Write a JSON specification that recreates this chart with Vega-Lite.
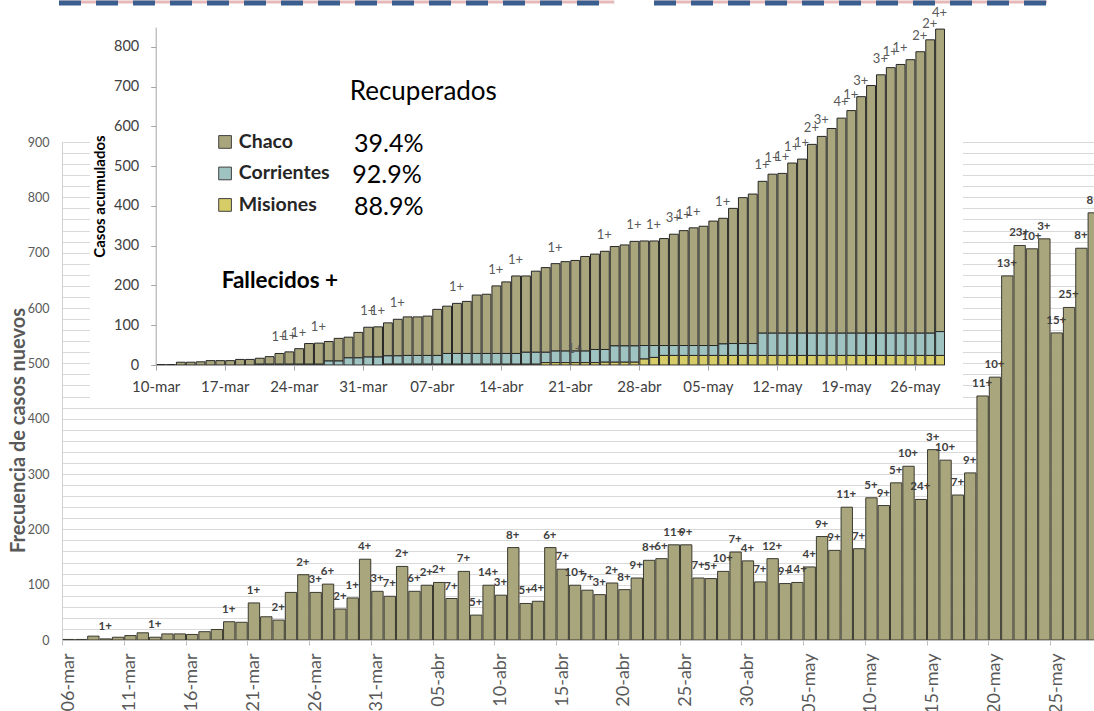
{
  "$schema": "https://vega.github.io/schema/vega-lite/v6.json",
  "width": 1032,
  "height": 498,
  "autosize": {"type": "none"},
  "padding": {"left": 62, "top": 142, "right": 0, "bottom": 71},
  "background": "#ffffff",
  "config": {"view": {"stroke": null}, "font": "Lato"},
  "datasets": {
    "daily": [
      {"d":"2020-03-06","n":1},{"d":"2020-03-07","n":1},{"d":"2020-03-08","n":7},{"d":"2020-03-09","n":2,"t":"1+"},
      {"d":"2020-03-10","n":5},{"d":"2020-03-11","n":8},{"d":"2020-03-12","n":13},{"d":"2020-03-13","n":5,"t":"1+"},
      {"d":"2020-03-14","n":11},{"d":"2020-03-15","n":11},{"d":"2020-03-16","n":10},{"d":"2020-03-17","n":15},
      {"d":"2020-03-18","n":19},{"d":"2020-03-19","n":33,"t":"1+"},{"d":"2020-03-20","n":32},{"d":"2020-03-21","n":67,"t":"1+"},
      {"d":"2020-03-22","n":42},{"d":"2020-03-23","n":36,"t":"2+"},{"d":"2020-03-24","n":86},{"d":"2020-03-25","n":118,"t":"2+"},
      {"d":"2020-03-26","n":86,"t":"3+"},{"d":"2020-03-27","n":101,"t":"6+"},{"d":"2020-03-28","n":56,"t":"2+"},{"d":"2020-03-29","n":76,"t":"1+"},
      {"d":"2020-03-30","n":146,"t":"4+"},{"d":"2020-03-31","n":88,"t":"3+"},{"d":"2020-04-01","n":79,"t":"7+"},{"d":"2020-04-02","n":133,"t":"2+"},
      {"d":"2020-04-03","n":88,"t":"6+"},{"d":"2020-04-04","n":99,"t":"2+"},{"d":"2020-04-05","n":104,"t":"2+"},{"d":"2020-04-06","n":75,"t":"7+"},
      {"d":"2020-04-07","n":124,"t":"7+"},{"d":"2020-04-08","n":45,"t":"5+"},{"d":"2020-04-09","n":99,"t":"14+"},{"d":"2020-04-10","n":81,"t":"3+"},
      {"d":"2020-04-11","n":167,"t":"8+"},{"d":"2020-04-12","n":66,"t":"5+"},{"d":"2020-04-13","n":70,"t":"4+"},{"d":"2020-04-14","n":167,"t":"6+"},
      {"d":"2020-04-15","n":128,"t":"7+"},{"d":"2020-04-16","n":99,"t":"10+"},{"d":"2020-04-17","n":90,"t":"7+"},{"d":"2020-04-18","n":82,"t":"3+"},
      {"d":"2020-04-19","n":103,"t":"2+"},{"d":"2020-04-20","n":91,"t":"8+"},{"d":"2020-04-21","n":112,"t":"9+"},{"d":"2020-04-22","n":144,"t":"8+"},
      {"d":"2020-04-23","n":147,"t":"6+"},{"d":"2020-04-24","n":172,"t":"11+"},{"d":"2020-04-25","n":172,"t":"9+"},{"d":"2020-04-26","n":112,"t":"7+"},
      {"d":"2020-04-27","n":111,"t":"5+"},{"d":"2020-04-28","n":124,"t":"10+"},{"d":"2020-04-29","n":159,"t":"7+"},{"d":"2020-04-30","n":143,"t":"4+"},
      {"d":"2020-05-01","n":105,"t":"7+"},{"d":"2020-05-02","n":147,"t":"12+"},{"d":"2020-05-03","n":102,"t":"9+"},{"d":"2020-05-04","n":104,"t":"14+"},
      {"d":"2020-05-05","n":132,"t":"4+"},{"d":"2020-05-06","n":187,"t":"9+"},{"d":"2020-05-07","n":162,"t":"9+"},{"d":"2020-05-08","n":240,"t":"11+"},
      {"d":"2020-05-09","n":165,"t":"7+"},{"d":"2020-05-10","n":257,"t":"5+"},{"d":"2020-05-11","n":243,"t":"9+"},{"d":"2020-05-12","n":284,"t":"5+"},
      {"d":"2020-05-13","n":314,"t":"10+"},{"d":"2020-05-14","n":254,"t":"24+"},{"d":"2020-05-15","n":344,"t":"3+"},{"d":"2020-05-16","n":325,"t":"10+"},
      {"d":"2020-05-17","n":262,"t":"7+"},{"d":"2020-05-18","n":302,"t":"9+"},{"d":"2020-05-19","n":441,"t":"11+"},{"d":"2020-05-20","n":475,"t":"10+"},
      {"d":"2020-05-21","n":658,"t":"13+"},{"d":"2020-05-22","n":713,"t":"23+"},{"d":"2020-05-23","n":707,"t":"10+"},{"d":"2020-05-24","n":725,"t":"3+"},
      {"d":"2020-05-25","n":555,"t":"15+"},{"d":"2020-05-26","n":601,"t":"25+"},{"d":"2020-05-27","n":708,"t":"8+"},{"d":"2020-05-28","n":772,"t":"8+"}
    ],
    "cum": [
      {"d":"2020-03-10","Chaco":1,"Corrientes":0,"Misiones":0},{"d":"2020-03-11","Chaco":1,"Corrientes":0,"Misiones":0},
      {"d":"2020-03-12","Chaco":7,"Corrientes":0,"Misiones":0},{"d":"2020-03-13","Chaco":7,"Corrientes":0,"Misiones":0},
      {"d":"2020-03-14","Chaco":8,"Corrientes":0,"Misiones":0},{"d":"2020-03-15","Chaco":11,"Corrientes":0,"Misiones":0},
      {"d":"2020-03-16","Chaco":11,"Corrientes":0,"Misiones":0},{"d":"2020-03-17","Chaco":11,"Corrientes":0,"Misiones":0},
      {"d":"2020-03-18","Chaco":14,"Corrientes":0,"Misiones":0},{"d":"2020-03-19","Chaco":14,"Corrientes":0,"Misiones":0},
      {"d":"2020-03-20","Chaco":15,"Corrientes":2,"Misiones":0},{"d":"2020-03-21","Chaco":19,"Corrientes":2,"Misiones":0},
      {"d":"2020-03-22","Chaco":27,"Corrientes":2,"Misiones":0},{"d":"2020-03-23","Chaco":31,"Corrientes":2,"Misiones":0},
      {"d":"2020-03-24","Chaco":39,"Corrientes":2,"Misiones":0},{"d":"2020-03-25","Chaco":52,"Corrientes":2,"Misiones":0},
      {"d":"2020-03-26","Chaco":53,"Corrientes":2,"Misiones":0},{"d":"2020-03-27","Chaco":49,"Corrientes":10,"Misiones":0},
      {"d":"2020-03-28","Chaco":57,"Corrientes":10,"Misiones":0},{"d":"2020-03-29","Chaco":52,"Corrientes":18,"Misiones":0},
      {"d":"2020-03-30","Chaco":64,"Corrientes":18,"Misiones":0},{"d":"2020-03-31","Chaco":75,"Corrientes":20,"Misiones":0},
      {"d":"2020-04-01","Chaco":76,"Corrientes":20,"Misiones":0},{"d":"2020-04-02","Chaco":83,"Corrientes":21,"Misiones":2},
      {"d":"2020-04-03","Chaco":92,"Corrientes":21,"Misiones":2},{"d":"2020-04-04","Chaco":97,"Corrientes":22,"Misiones":2},
      {"d":"2020-04-05","Chaco":97,"Corrientes":22,"Misiones":2},{"d":"2020-04-06","Chaco":99,"Corrientes":22,"Misiones":2},
      {"d":"2020-04-07","Chaco":116,"Corrientes":22,"Misiones":2},{"d":"2020-04-08","Chaco":119,"Corrientes":27,"Misiones":2},
      {"d":"2020-04-09","Chaco":126,"Corrientes":27,"Misiones":2},{"d":"2020-04-10","Chaco":131,"Corrientes":27,"Misiones":2},
      {"d":"2020-04-11","Chaco":147,"Corrientes":27,"Misiones":2},{"d":"2020-04-12","Chaco":149,"Corrientes":27,"Misiones":2},
      {"d":"2020-04-13","Chaco":170,"Corrientes":27,"Misiones":2},{"d":"2020-04-14","Chaco":180,"Corrientes":27,"Misiones":2},
      {"d":"2020-04-15","Chaco":195,"Corrientes":27,"Misiones":2},{"d":"2020-04-16","Chaco":192,"Corrientes":30,"Misiones":2},
      {"d":"2020-04-17","Chaco":204,"Corrientes":30,"Misiones":2},{"d":"2020-04-18","Chaco":213,"Corrientes":26,"Misiones":6},
      {"d":"2020-04-19","Chaco":220,"Corrientes":29,"Misiones":6},{"d":"2020-04-20","Chaco":225,"Corrientes":29,"Misiones":6},
      {"d":"2020-04-21","Chaco":228,"Corrientes":29,"Misiones":6},{"d":"2020-04-22","Chaco":238,"Corrientes":29,"Misiones":6},
      {"d":"2020-04-23","Chaco":240,"Corrientes":33,"Misiones":6},{"d":"2020-04-24","Chaco":247,"Corrientes":32,"Misiones":7},
      {"d":"2020-04-25","Chaco":250,"Corrientes":41,"Misiones":7},{"d":"2020-04-26","Chaco":254,"Corrientes":41,"Misiones":7},
      {"d":"2020-04-27","Chaco":263,"Corrientes":41,"Misiones":7},{"d":"2020-04-28","Chaco":263,"Corrientes":34,"Misiones":15},
      {"d":"2020-04-29","Chaco":263,"Corrientes":30,"Misiones":19},{"d":"2020-04-30","Chaco":269,"Corrientes":25,"Misiones":24},
      {"d":"2020-05-01","Chaco":280,"Corrientes":25,"Misiones":24},{"d":"2020-05-02","Chaco":289,"Corrientes":25,"Misiones":24},
      {"d":"2020-05-03","Chaco":296,"Corrientes":25,"Misiones":24},{"d":"2020-05-04","Chaco":300,"Corrientes":25,"Misiones":24},
      {"d":"2020-05-05","Chaco":313,"Corrientes":25,"Misiones":24},{"d":"2020-05-06","Chaco":316,"Corrientes":29,"Misiones":24},
      {"d":"2020-05-07","Chaco":340,"Corrientes":30,"Misiones":24},{"d":"2020-05-08","Chaco":367,"Corrientes":30,"Misiones":24},
      {"d":"2020-05-09","Chaco":376,"Corrientes":30,"Misiones":24},{"d":"2020-05-10","Chaco":382,"Corrientes":56,"Misiones":24},
      {"d":"2020-05-11","Chaco":400,"Corrientes":56,"Misiones":24},{"d":"2020-05-12","Chaco":402,"Corrientes":56,"Misiones":24},
      {"d":"2020-05-13","Chaco":428,"Corrientes":56,"Misiones":24},{"d":"2020-05-14","Chaco":438,"Corrientes":56,"Misiones":24},
      {"d":"2020-05-15","Chaco":475,"Corrientes":56,"Misiones":24},{"d":"2020-05-16","Chaco":495,"Corrientes":56,"Misiones":24},
      {"d":"2020-05-17","Chaco":515,"Corrientes":56,"Misiones":24},{"d":"2020-05-18","Chaco":541,"Corrientes":56,"Misiones":24},
      {"d":"2020-05-19","Chaco":560,"Corrientes":56,"Misiones":24},{"d":"2020-05-20","Chaco":595,"Corrientes":56,"Misiones":24},
      {"d":"2020-05-21","Chaco":623,"Corrientes":56,"Misiones":24},{"d":"2020-05-22","Chaco":650,"Corrientes":56,"Misiones":24},
      {"d":"2020-05-23","Chaco":668,"Corrientes":56,"Misiones":24},{"d":"2020-05-24","Chaco":676,"Corrientes":56,"Misiones":24},
      {"d":"2020-05-25","Chaco":688,"Corrientes":56,"Misiones":24},{"d":"2020-05-26","Chaco":708,"Corrientes":56,"Misiones":24},
      {"d":"2020-05-27","Chaco":738,"Corrientes":56,"Misiones":24},{"d":"2020-05-28","Chaco":761,"Corrientes":60,"Misiones":24}
    ],
    "fall": [
      {"d":"2020-03-22","y":29,"t":"1+"},{"d":"2020-03-23","y":33,"t":"1+"},{"d":"2020-03-24","y":41,"t":"1+"},{"d":"2020-03-26","y":55,"t":"1+"},
      {"d":"2020-03-31","y":95,"t":"1+"},{"d":"2020-04-01","y":96,"t":"1+"},{"d":"2020-04-03","y":115,"t":"1+"},{"d":"2020-04-09","y":155,"t":"1+"},
      {"d":"2020-04-13","y":199,"t":"1+"},{"d":"2020-04-15","y":224,"t":"1+"},{"d":"2020-04-19","y":255,"t":"1+"},{"d":"2020-04-24","y":286,"t":"1+"},
      {"d":"2020-04-27","y":311,"t":"1+"},{"d":"2020-04-29","y":312,"t":"1+"},{"d":"2020-05-01","y":329,"t":"3+"},{"d":"2020-05-02","y":338,"t":"1+"},
      {"d":"2020-05-03","y":345,"t":"1+"},{"d":"2020-05-06","y":369,"t":"1+"},{"d":"2020-05-10","y":462,"t":"1+"},{"d":"2020-05-11","y":480,"t":"1+"},
      {"d":"2020-05-12","y":482,"t":"1+"},{"d":"2020-05-13","y":508,"t":"1+"},{"d":"2020-05-14","y":518,"t":"1+"},{"d":"2020-05-15","y":555,"t":"2+"},
      {"d":"2020-05-16","y":575,"t":"3+"},{"d":"2020-05-18","y":621,"t":"4+"},{"d":"2020-05-19","y":640,"t":"1+"},{"d":"2020-05-20","y":675,"t":"3+"},
      {"d":"2020-05-22","y":730,"t":"3+"},{"d":"2020-05-23","y":748,"t":"1+"},{"d":"2020-05-24","y":756,"t":"1+"},{"d":"2020-05-26","y":788,"t":"2+"},
      {"d":"2020-05-27","y":818,"t":"2+"},{"d":"2020-05-28","y":845,"t":"4+"}
    ]
  },
  "layer": [
    {
      "layer": [
        {
          "data": {"name": "daily"},
          "mark": {"type": "bar", "fill": "#a9a57c", "stroke": "#3a3a30", "strokeWidth": 1, "clip": true},
          "encoding": {
            "x": {
              "field": "d", "timeUnit": "utcyearmonthdate", "type": "temporal",
              "scale": {"type": "utc", "domain": [{"year":2020,"month":3,"date":6,"utc":true},{"year":2020,"month":5,"date":28,"hours":13,"minutes":26,"utc":true}]},
              "axis": {
                "title": null, "grid": false, "tickCount": 40,
                "values": [
                  {"year":2020,"month":3,"date":6,"utc":true},{"year":2020,"month":3,"date":11,"utc":true},{"year":2020,"month":3,"date":16,"utc":true},
                  {"year":2020,"month":3,"date":21,"utc":true},{"year":2020,"month":3,"date":26,"utc":true},{"year":2020,"month":3,"date":31,"utc":true},
                  {"year":2020,"month":4,"date":5,"utc":true},{"year":2020,"month":4,"date":10,"utc":true},{"year":2020,"month":4,"date":15,"utc":true},
                  {"year":2020,"month":4,"date":20,"utc":true},{"year":2020,"month":4,"date":25,"utc":true},{"year":2020,"month":4,"date":30,"utc":true},
                  {"year":2020,"month":5,"date":5,"utc":true},{"year":2020,"month":5,"date":10,"utc":true},{"year":2020,"month":5,"date":15,"utc":true},
                  {"year":2020,"month":5,"date":20,"utc":true},{"year":2020,"month":5,"date":25,"utc":true}
                ],
                "labelExpr": "replace(lower(utcFormat(datum.value, '%d-%b')), 'apr', 'abr')",
                "labelAngle": 270, "labelAlign": "right", "labelBaseline": "middle",
                "labelOffset": 6, "labelPadding": 8, "labelFlush": false, "labelOverlap": false,
                "tickSize": 5, "tickColor": "#bfbfbf", "domainColor": "#bfbfbf",
                "labelFont": "Lato", "labelFontSize": 18, "labelColor": "#595959"
              }
            },
            "y": {
              "field": "n", "type": "quantitative",
              "scale": {"domain": [0, 900], "nice": false},
              "axis": {
                "tickCount": 100,
                "values": [0,20,40,60,80,100,120,140,160,180,200,220,240,260,280,300,320,340,360,380,400,420,440,460,480,500,520,540,560,580,600,620,640,660,680,700,720,740,760,780,800,820,840,860,880,900],
                "labelExpr": "datum.value % 100 === 0 ? datum.label : ''",
                "grid": true, "gridColor": "#d9d9d9", "tickSize": 0, "labelPadding": 13, "labelOverlap": false,
                "labelFont": "Lato", "labelFontSize": 12.5, "labelColor": "#595959", "domainColor": "#d0d0d0",
                "title": "Frecuencia de casos nuevos", "titleFont": "Lato", "titleFontSize": 20, "titleFontWeight": "bold",
                "titleColor": "#595959", "titleX": -44, "titleY": 288, "titleAngle": 270, "titleAlign": "center", "titleBaseline": "middle"
              }
            }
          }
        },
        {
          "data": {"name": "daily"},
          "transform": [{"filter": "isValid(datum.t)"}],
          "mark": {"type": "text", "font": "Lato", "fontWeight": "bold", "fontSize": 11.5, "color": "#404040", "baseline": "alphabetic", "dy": -9},
          "encoding": {
            "x": {"field": "d", "timeUnit": "utcyearmonthdate", "type": "temporal", "bandPosition": 0.5},
            "y": {"field": "n", "type": "quantitative"},
            "text": {"field": "t"}
          }
        },
        {
          "data": {"values": [{}]},
          "mark": {"type": "rect", "fill": "#ffffff"},
          "encoding": {
            "x": {"datum": {"year":2020,"month":3,"date":8,"hours":6,"minutes":24,"utc":true}, "type": "temporal"},
            "x2": {"datum": {"year":2020,"month":5,"date":17,"hours":22,"minutes":55,"utc":true}},
            "y": {"datum": 424, "type": "quantitative"},
            "y2": {"datum": 900}
          }
        },
        {
          "data": {"values": [{}]},
          "mark": {"type": "rule", "stroke": "#e6b9b8", "strokeWidth": 3},
          "encoding": {
            "x": {"datum": {"year":2020,"month":3,"date":5,"hours":18,"minutes":10,"utc":true}, "type": "temporal"},
            "x2": {"datum": {"year":2020,"month":4,"date":19,"hours":16,"minutes":48,"utc":true}},
            "y": {"datum": 1153, "type": "quantitative"}
          }
        },
        {
          "data": {"values": [{}]},
          "mark": {"type": "rule", "stroke": "#e6b9b8", "strokeWidth": 3},
          "encoding": {
            "x": {"datum": {"year":2020,"month":4,"date":22,"hours":22,"minutes":26,"utc":true}, "type": "temporal"},
            "x2": {"datum": {"year":2020,"month":5,"date":24,"hours":18,"minutes":10,"utc":true}},
            "y": {"datum": 1153, "type": "quantitative"}
          }
        },
        {
          "data": {"values": [{}]},
          "mark": {"type": "rule", "stroke": "#3a5f8f", "strokeWidth": 5, "strokeDash": [22, 15]},
          "encoding": {
            "x": {"datum": {"year":2020,"month":3,"date":5,"hours":18,"minutes":10,"utc":true}, "type": "temporal"},
            "x2": {"datum": {"year":2020,"month":4,"date":19,"hours":16,"minutes":48,"utc":true}},
            "y": {"datum": 1151.4, "type": "quantitative"}
          }
        },
        {
          "data": {"values": [{}]},
          "mark": {"type": "rule", "stroke": "#3a5f8f", "strokeWidth": 5, "strokeDash": [22, 15]},
          "encoding": {
            "x": {"datum": {"year":2020,"month":4,"date":22,"hours":22,"minutes":26,"utc":true}, "type": "temporal"},
            "x2": {"datum": {"year":2020,"month":5,"date":24,"hours":18,"minutes":10,"utc":true}},
            "y": {"datum": 1151.4, "type": "quantitative"}
          }
        }
      ]
    },
    {
      "layer": [
        {
          "data": {"name": "cum"},
          "transform": [
            {"fold": ["Chaco", "Corrientes", "Misiones"], "as": ["prov", "v"]},
            {"filter": "datum.v > 0"}
          ],
          "mark": {"type": "bar", "stroke": "#262626", "strokeWidth": 1},
          "encoding": {
            "x": {
              "field": "d", "timeUnit": "utcyearmonthdate", "type": "temporal",
              "scale": {"type": "utc", "domain": [{"year":2020,"month":3,"date":10,"utc":true},{"year":2020,"month":5,"date":29,"utc":true}], "range": [93.7, 882.5]},
              "axis": {
                "orient": "bottom", "offset": -275, "title": null, "grid": false, "zindex": 1, "tickCount": 40,
                "values": [
                  {"year":2020,"month":3,"date":10,"utc":true},{"year":2020,"month":3,"date":17,"utc":true},{"year":2020,"month":3,"date":24,"utc":true},
                  {"year":2020,"month":3,"date":31,"utc":true},{"year":2020,"month":4,"date":7,"utc":true},{"year":2020,"month":4,"date":14,"utc":true},
                  {"year":2020,"month":4,"date":21,"utc":true},{"year":2020,"month":4,"date":28,"utc":true},{"year":2020,"month":5,"date":5,"utc":true},
                  {"year":2020,"month":5,"date":12,"utc":true},{"year":2020,"month":5,"date":19,"utc":true},{"year":2020,"month":5,"date":26,"utc":true}
                ],
                "labelExpr": "replace(lower(utcFormat(datum.value, '%d-%b')), 'apr', 'abr')",
                "labelAngle": 0, "labelAlign": "center", "labelBaseline": "top", "labelPadding": 9,
                "labelFlush": false, "labelOverlap": false,
                "tickSize": 5, "tickColor": "#a6a6a6", "domainColor": "#a6a6a6",
                "labelFont": "Lato", "labelFontSize": 15, "labelColor": "#404040"
              }
            },
            "y": {
              "field": "v", "type": "quantitative", "stack": "zero",
              "scale": {"domain": [0, 850], "range": [223, -114.9], "nice": false},
              "axis": {
                "orient": "left", "offset": -93.7, "grid": false, "zindex": 1, "tickCount": 20,
                "values": [0, 100, 200, 300, 400, 500, 600, 700, 800],
                "tickSize": 5, "labelPadding": 12, "tickColor": "#a6a6a6", "domainColor": "#a6a6a6",
                "labelFont": "Lato", "labelFontSize": 14.5, "labelColor": "#404040",
                "title": "Casos acumulados", "titleFont": "Lato", "titleFontSize": 15, "titleFontWeight": "bold",
                "titleColor": "#000000", "titleX": -56.7, "titleY": 54, "titleAngle": 270, "titleAlign": "center", "titleBaseline": "middle"
              }
            },
            "color": {
              "field": "prov", "type": "nominal",
              "scale": {"domain": ["Chaco", "Corrientes", "Misiones"], "range": ["#a9a67d", "#9ec3c1", "#d6cc68"]},
              "legend": {
                "orient": "none", "legendX": 153.3, "legendY": -9.8, "title": null, "zindex": 1,
                "symbolType": "square", "symbolSize": 161, "symbolStrokeColor": "#404040", "symbolStrokeWidth": 1,
                "labelFont": "Lato", "labelFontWeight": "bold", "labelFontSize": 19.5, "labelColor": "#262626",
                "rowPadding": 10.5, "labelOffset": 4, "padding": 0
              }
            },
            "order": {"field": "prov", "sort": "descending"}
          }
        },
        {
          "data": {"name": "fall"},
          "mark": {"type": "text", "font": "Lato", "fontSize": 13, "color": "#595959", "baseline": "alphabetic", "dy": -12},
          "encoding": {
            "x": {"field": "d", "timeUnit": "utcyearmonthdate", "type": "temporal", "bandPosition": 0.5},
            "y": {"field": "y", "type": "quantitative"},
            "text": {"field": "t"}
          }
        },
        {
          "data": {"values": [{"d": "2020-04-21", "y": 35, "t": "1+"}]},
          "mark": {"type": "text", "font": "Lato", "fontSize": 13, "color": "#595959", "baseline": "alphabetic", "dy": 2},
          "encoding": {
            "x": {"field": "d", "timeUnit": "utcyearmonthdate", "type": "temporal", "bandPosition": 0.5},
            "y": {"field": "y", "type": "quantitative"},
            "text": {"field": "t"}
          }
        },
        {
          "data": {"values": [{"t": "Recuperados"}]},
          "mark": {"type": "text", "font": "Lato", "fontSize": 26, "color": "#000000", "align": "center", "baseline": "alphabetic"},
          "encoding": {
            "x": {"datum": {"year":2020,"month":4,"date":6,"hours":3,"minutes":22,"utc":true}, "type": "temporal"},
            "y": {"datum": 666.7, "type": "quantitative"},
            "text": {"field": "t"}
          }
        },
        {
          "data": {"values": [{"t": "39.4%"}]},
          "mark": {"type": "text", "font": "Lato", "fontSize": 25, "color": "#000000", "align": "left", "baseline": "alphabetic"},
          "encoding": {
            "x": {"datum": {"year":2020,"month":3,"date":30,"hours":2,"minutes":38,"utc":true}, "type": "temporal"},
            "y": {"datum": 536.6, "type": "quantitative"},
            "text": {"field": "t"}
          }
        },
        {
          "data": {"values": [{"t": "92.9%"}]},
          "mark": {"type": "text", "font": "Lato", "fontSize": 25, "color": "#000000", "align": "left", "baseline": "alphabetic"},
          "encoding": {
            "x": {"datum": {"year":2020,"month":3,"date":29,"hours":22,"minutes":34,"utc":true}, "type": "temporal"},
            "y": {"datum": 458.6, "type": "quantitative"},
            "text": {"field": "t"}
          }
        },
        {
          "data": {"values": [{"t": "88.9%"}]},
          "mark": {"type": "text", "font": "Lato", "fontSize": 25, "color": "#000000", "align": "left", "baseline": "alphabetic"},
          "encoding": {
            "x": {"datum": {"year":2020,"month":3,"date":30,"hours":2,"minutes":38,"utc":true}, "type": "temporal"},
            "y": {"datum": 377.4, "type": "quantitative"},
            "text": {"field": "t"}
          }
        },
        {
          "data": {"values": [{"t": "Fallecidos +"}]},
          "mark": {"type": "text", "font": "Lato", "fontSize": 22.5, "fontWeight": "bold", "color": "#000000", "align": "left", "baseline": "alphabetic"},
          "encoding": {
            "x": {"datum": {"year":2020,"month":3,"date":16,"hours":16,"minutes":34,"utc":true}, "type": "temporal"},
            "y": {"datum": 193, "type": "quantitative"},
            "text": {"field": "t"}
          }
        }
      ]
    }
  ],
  "resolve": {"scale": {"x": "independent", "y": "independent"}}
}
